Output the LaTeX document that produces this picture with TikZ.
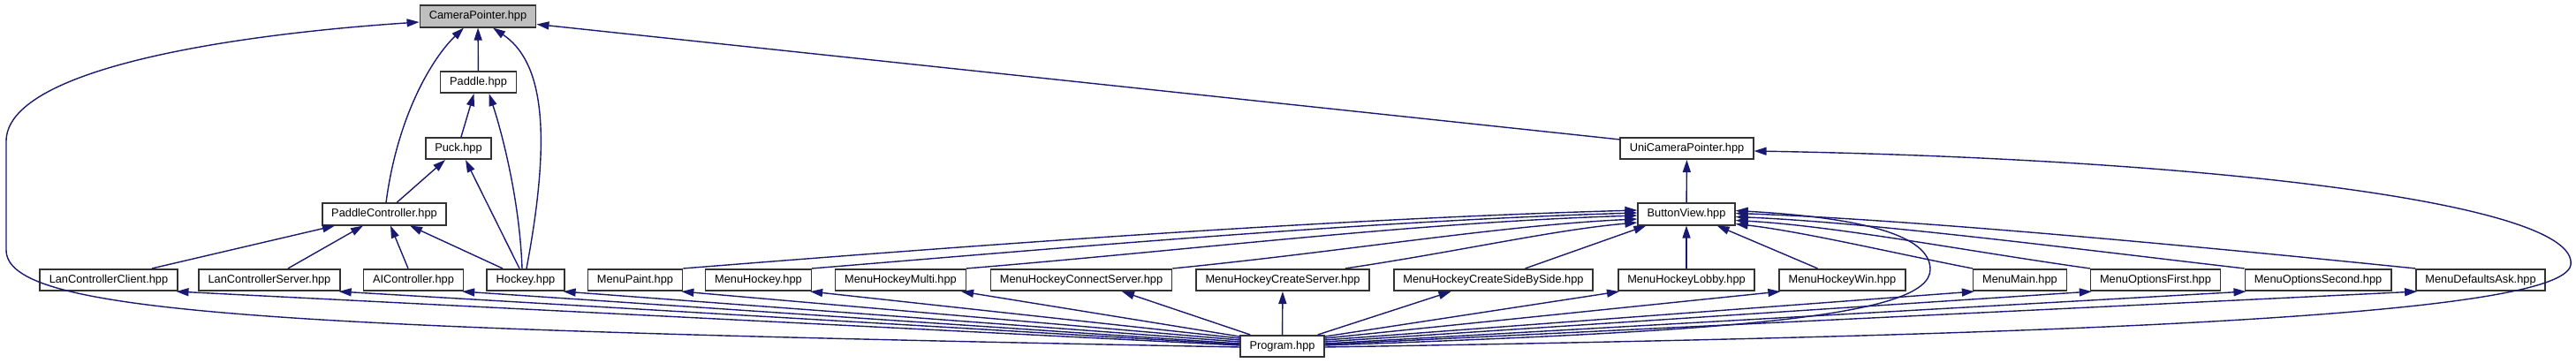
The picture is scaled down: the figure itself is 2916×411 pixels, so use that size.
\documentclass[tikz,border=0pt]{standalone}
\usepackage{fontspec}
\setmainfont{Liberation Sans}
\usetikzlibrary{arrows.meta,calc}
\definecolor{edgeblue}{HTML}{191970}

\begin{document}
\begin{tikzpicture}[
    x=1pt, y=-1pt,
    file/.style={draw=black!80, line width=1.6pt, fill=white,
                 font=\fontsize{12.8}{14}\selectfont,
                 inner xsep=10.5pt, inner ysep=0pt, minimum height=24.5pt},
    root/.style={file, fill=black!25},
    edge/.style={draw=edgeblue, line width=1.4pt,
                 -{Triangle[length=14pt,width=9pt]}}
  ]
  \useasboundingbox (0,0) rectangle (2916,411);

  \node[root] (cp) at (541,18.5) {CameraPointer.hpp};
  \node[file] (paddle) at (541.5,93) {Paddle.hpp};
  \node[file] (puck) at (519,168) {Puck.hpp};
  \node[file] (pctrl) at (435,242.5) {PaddleController.hpp};
  \node[file] (uni) at (1909.5,168) {UniCameraPointer.hpp};
  \node[file] (bview) at (1909,242.5) {ButtonView.hpp};

  \node[file] (lcc) at (123,317) {LanControllerClient.hpp};
  \node[file] (lcs) at (305,317) {LanControllerServer.hpp};
  \node[file] (ai) at (468,317) {AIController.hpp};
  \node[file] (hockey) at (595,317) {Hockey.hpp};
  \node[file] (mpaint) at (719,317) {MenuPaint.hpp};
  \node[file] (mhockey) at (858.5,317) {MenuHockey.hpp};
  \node[file] (mmulti) at (1019.5,317) {MenuHockeyMulti.hpp};
  \node[file] (mconnect) at (1224,317) {MenuHockeyConnectServer.hpp};
  \node[file] (mcreate) at (1452,317) {MenuHockeyCreateServer.hpp};
  \node[file] (mside) at (1690.5,317) {MenuHockeyCreateSideBySide.hpp};
  \node[file] (mlobby) at (1909,317) {MenuHockeyLobby.hpp};
  \node[file] (mwin) at (2085.5,317) {MenuHockeyWin.hpp};
  \node[file] (mmain) at (2286.5,317) {MenuMain.hpp};
  \node[file] (mfirst) at (2440,317) {MenuOptionsFirst.hpp};
  \node[file] (msecond) at (2624,317) {MenuOptionsSecond.hpp};
  \node[file] (mdefaults) at (2808,317) {MenuDefaultsAsk.hpp};

  \node[file] (program) at (1451.5,392) {Program.hpp};

  % CameraPointer
  \draw[edge] ($(program.west)+(0,1)$) .. controls (300,372) and (7,355) .. (7,283)
    -- (7,160) .. controls (7,80) and (250,40) .. ($(cp.west)+(0,6.5)$);
  \draw[edge] (paddle) -- (cp);
  \draw[edge] ($(pctrl.north)+(2,0)$) .. controls (450,130) and (490,65) .. ($(cp.south)+(-16,0)$);
  \draw[edge] ($(hockey.north)+(1,0)$) .. controls (625,150) and (615,70) .. ($(cp.south)+(17,0)$);
  \draw[edge] ($(uni.north west)+(0,3)$) -- ($(cp.east)+(0,9)$);

  % Paddle, Puck
  \draw[edge] ($(puck.north)+(3,0)$) -- ($(paddle.south)+(-5,0)$);
  \draw[edge] ($(hockey.north)+(-4,0)$) .. controls (588,220) and (565,140) .. ($(paddle.south)+(12,0)$);
  \draw[edge] ($(pctrl.north)+(14,0)$) -- ($(puck.south)+(-15,0)$);
  \draw[edge] ($(hockey.north)+(-7,0)$) -- ($(puck.south)+(8,0)$);

  % PaddleController
  \draw[edge] ($(lcc.north)+(49,0)$) -- ($(pctrl.south)+(-56,0)$);
  \draw[edge] ($(lcs.north)+(21,0)$) -- ($(pctrl.south)+(-24,0)$);
  \draw[edge] ($(ai.north)+(-6,0)$) -- ($(pctrl.south)+(7,0)$);
  \draw[edge] ($(hockey.north)+(-26,0)$) -- ($(pctrl.south)+(29,0)$);

  % UniCameraPointer
  \draw[edge] (bview) -- (uni);
  \draw[edge] ($(program.east)+(0,1)$) .. controls (2300,380) and (2900,360) .. (2910,300)
    .. controls (2920,230) and (2500,180) .. ($(uni.east)+(0,3)$);

  % ButtonView
  \draw[edge] (mpaint.north east) .. controls (1100,278) and (1500,248) .. ($(bview.west)+(0,-4.5)$);
  \draw[edge] (mhockey.north east) .. controls (1200,281) and (1550,250) .. ($(bview.west)+(0,-1.5)$);
  \draw[edge] (mmulti.north east) .. controls (1350,283) and (1600,252) .. ($(bview.west)+(0,1.5)$);
  \draw[edge] (mconnect.north east) .. controls (1520,285) and (1700,255) .. ($(bview.west)+(0,5.5)$);
  \draw[edge] ($(mcreate.north east)+(-28,0)$) .. controls (1650,285) and (1760,260) .. ($(bview.west)+(0,9.5)$);
  \draw[edge] ($(mside.north)+(36,0)$) -- ($(bview.south west)+(10,0)$);
  \draw[edge] (mlobby) -- (bview);
  \draw[edge] ($(mwin.north)+(-28,0)$) -- ($(bview.south east)+(-21,0)$);
  \draw[edge] (mmain.north west) .. controls (2150,288) and (2040,262) .. ($(bview.east)+(0,11)$);
  \draw[edge] (mfirst.north west) .. controls (2230,285) and (2080,256) .. ($(bview.east)+(0,7)$);
  \draw[edge] (msecond.north west) .. controls (2350,282) and (2120,252) .. ($(bview.east)+(0,3)$);
  \draw[edge] (mdefaults.north west) .. controls (2450,275) and (2150,248) .. ($(bview.east)+(0,-1)$);
  \draw[edge] ($(program.east)+(0,-1)$) .. controls (1950,375) and (2185,360) .. (2185,305)
    .. controls (2185,260) and (2080,245) .. ($(bview.east)+(0,-4)$);

  % row of headers used by Program
  \draw[edge] ($(program.west)+(0,-1)$) -- ($(lcc.south east)+(-2,0)$);
  \draw[edge] ($(program.west)+(0,-2)$) -- ($(lcs.south east)+(-2,0)$);
  \draw[edge] ($(program.west)+(0,-3)$) -- ($(ai.south east)+(-2,0)$);
  \draw[edge] ($(program.west)+(0,-5)$) -- ($(hockey.south east)+(-2,0)$);
  \draw[edge] ($(program.west)+(0,-7)$) -- ($(mpaint.south east)+(-2,0)$);
  \draw[edge] ($(program.west)+(0,-9)$) -- ($(mhockey.south east)+(-2,0)$);
  \draw[edge] ($(program.west)+(0,-11)$) -- ($(mmulti.south east)+(-6,0)$);
  \draw[edge] ($(program.north west)+(12,0)$) -- ($(mconnect.south)+(46,0)$);
  \draw[edge] (program) -- (mcreate);
  \draw[edge] ($(program.north east)+(-8,0)$) -- ($(mside.south)+(-48,0)$);
  \draw[edge] ($(program.east)+(0,-11)$) -- ($(mlobby.south west)+(2,0)$);
  \draw[edge] ($(program.east)+(0,-9)$) -- ($(mwin.south west)+(2,0)$);
  \draw[edge] ($(program.east)+(0,-7)$) -- ($(mmain.south west)+(2,0)$);
  \draw[edge] ($(program.east)+(0,-5)$) -- ($(mfirst.south west)+(2,0)$);
  \draw[edge] ($(program.east)+(0,-3)$) -- ($(msecond.south west)+(2,0)$);
  \draw[edge] ($(program.east)+(0,-2)$) -- ($(mdefaults.south west)+(2,0)$);
\end{tikzpicture}
\end{document}
